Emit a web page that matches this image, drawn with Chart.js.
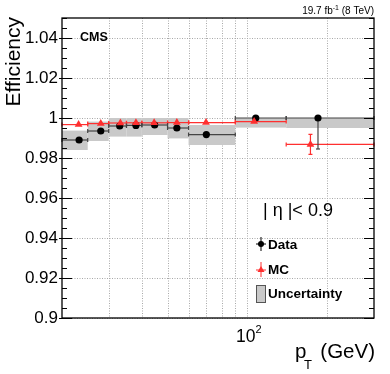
<!DOCTYPE html>
<html><head><meta charset="utf-8">
<script src="https://cdn.jsdelivr.net/npm/chart.js@4/dist/chart.umd.min.js"></script>
<style>html,body{margin:0;padding:0;background:#fff}canvas{display:block}</style>
</head><body>
<canvas id="c" width="390" height="374"></canvas>
<script>
// ---- data ----
const binLow  = [20, 25, 30, 35, 40, 50, 60, 90, 140];
const binHigh = [25, 30, 35, 40, 50, 60, 90, 140, 300];
const dataPt  = [23.2, 28.0, 33.0, 38.0, 44.7, 54.2, 70.0, 107.5, 184.5];
const dataEff = [0.989, 0.9935, 0.996, 0.9963, 0.9965, 0.995, 0.9917, 1.000, 1.000];
const dataErrDown = [0.0004, 0.0003, 0.0002, 0.0002, 0.0002, 0.0003, 0.0004, 0.0005, 0.0155];
const dataErrUp   = [0.0004, 0.0003, 0.0002, 0.0002, 0.0002, 0.0003, 0.0004, 0.0000, 0.0000];
const mcPt  = [23.1, 28.0, 33.2, 38.0, 44.5, 54.2, 69.8, 106.0, 172.8];
const mcEff = [0.9967, 0.9972, 0.9975, 0.9976, 0.9976, 0.9977, 0.9977, 0.9982, 0.9868];
const mcErr = [0.0002, 0.0002, 0.0002, 0.0002, 0.0002, 0.0002, 0.0002, 0.0003, 0.005];
const uncLow  = [0.984, 0.9885, 0.9907, 0.9907, 0.9915, 0.9898, 0.9865, 0.9952, 0.9950];
const uncHigh = [0.9937, 0.9982, 1.000, 1.000, 1.000, 1.000, 0.9965, 1.000, 1.000];
const yTickVals = [0.90, 0.92, 0.94, 0.96, 0.98, 1.00, 1.02, 1.04];
const yTickLabels = ['0.9', '0.92', '0.94', '0.96', '0.98', '1', '1.02', '1.04'];
const xGridVals = [30, 40, 50, 60, 70, 80, 90, 100, 200];
const xLabelVal = 100;
const xLabelBase = '10', xLabelExp = '2';
const yMinorStep = 0.005;

const RED = '#ff2f2f';
const FONT = '"Liberation Sans", Arial, Helvetica, sans-serif';

const decor = {
  id: 'decor',
  beforeDatasetsDraw(chart) {
    const {ctx, chartArea: a, scales: {x, y}} = chart;
    ctx.save();
    // grid
    ctx.strokeStyle = '#a8a8a8';
    ctx.lineWidth = 1;
    ctx.setLineDash([1, 1.5]);
    xGridVals.forEach(v => {
      const px = Math.round(x.getPixelForValue(v)) + 0.5;
      ctx.beginPath(); ctx.moveTo(px, a.top); ctx.lineTo(px, a.bottom); ctx.stroke();
    });
    yTickVals.forEach(v => {
      const py = Math.round(y.getPixelForValue(v)) + 0.5;
      ctx.beginPath(); ctx.moveTo(a.left, py); ctx.lineTo(a.right, py); ctx.stroke();
    });
    ctx.setLineDash([]);
    // uncertainty boxes
    ctx.fillStyle = '#c9c9c9';
    for (let i = 0; i < binLow.length; i++) {
      const x0 = x.getPixelForValue(binLow[i]), x1 = x.getPixelForValue(binHigh[i]);
      const y0 = y.getPixelForValue(uncHigh[i]), y1 = y.getPixelForValue(uncLow[i]);
      ctx.fillRect(x0, y0, x1 - x0, y1 - y0);
    }
    // MC error bars
    ctx.strokeStyle = RED; ctx.lineWidth = 1.2;
    for (let i = 0; i < mcPt.length; i++) {
      const x0 = x.getPixelForValue(binLow[i]), x1 = x.getPixelForValue(binHigh[i]);
      const py = y.getPixelForValue(mcEff[i]);
      const px = x.getPixelForValue(mcPt[i]);
      ctx.beginPath(); ctx.moveTo(x0, py); ctx.lineTo(x1, py); ctx.stroke();
      ctx.beginPath(); ctx.moveTo(x0, py - 2); ctx.lineTo(x0, py + 2); ctx.moveTo(x1, py - 2); ctx.lineTo(x1, py + 2); ctx.stroke();
      const ya = y.getPixelForValue(mcEff[i] + mcErr[i]), yb = y.getPixelForValue(mcEff[i] - mcErr[i]);
      ctx.beginPath(); ctx.moveTo(px, ya); ctx.lineTo(px, yb); ctx.stroke();
      if (mcErr[i] > 0.001) {
        ctx.beginPath(); ctx.moveTo(px - 2, ya); ctx.lineTo(px + 2, ya); ctx.moveTo(px - 2, yb); ctx.lineTo(px + 2, yb); ctx.stroke();
      }
    }
    // Data error bars
    ctx.strokeStyle = '#444'; ctx.lineWidth = 1.2;
    for (let i = 0; i < dataPt.length; i++) {
      const x0 = x.getPixelForValue(binLow[i]), x1 = x.getPixelForValue(binHigh[i]);
      const py = y.getPixelForValue(dataEff[i]);
      const px = x.getPixelForValue(dataPt[i]);
      ctx.beginPath(); ctx.moveTo(x0, py); ctx.lineTo(x1, py); ctx.stroke();
      ctx.beginPath(); ctx.moveTo(x0, py - 2); ctx.lineTo(x0, py + 2); ctx.moveTo(x1, py - 2); ctx.lineTo(x1, py + 2); ctx.stroke();
      const ya = y.getPixelForValue(dataEff[i] + dataErrUp[i]), yb = y.getPixelForValue(dataEff[i] - dataErrDown[i]);
      ctx.beginPath(); ctx.moveTo(px, ya); ctx.lineTo(px, yb); ctx.stroke();
      if (dataErrDown[i] > 0.001) {
        ctx.beginPath(); ctx.moveTo(px - 2, yb); ctx.lineTo(px + 2, yb); ctx.stroke();
      }
    }
    ctx.restore();
  },
  afterDraw(chart) {
    const {ctx, chartArea: a, scales: {x, y}} = chart;
    ctx.save();
    // frame
    ctx.strokeStyle = '#000'; ctx.lineWidth = 1.3;
    ctx.strokeRect(a.left, a.top, a.right - a.left, a.bottom - a.top);
    // y ticks
    ctx.lineWidth = 1;
    for (let v = 0.9; v <= 1.05 + 1e-9; v += yMinorStep) {
      const py = Math.round(y.getPixelForValue(v)) + 0.5;
      const major = yTickVals.some(t => Math.abs(t - v) < 1e-6);
      ctx.beginPath();
      if (major) { ctx.moveTo(a.left - 3, py); ctx.lineTo(a.left + 10, py); }
      else { ctx.moveTo(a.left, py); ctx.lineTo(a.left + 5, py); }
      ctx.moveTo(a.right, py); ctx.lineTo(a.right - (major ? 10 : 5), py);
      ctx.stroke();
    }
    ctx.fillStyle = '#000';
    ctx.textBaseline = 'alphabetic'; ctx.textAlign = 'left';
    // x tick label 10^2
    const lx100 = x.getPixelForValue(xLabelVal);
    ctx.font = '17.5px ' + FONT; const wb = ctx.measureText(xLabelBase).width;
    ctx.fillText(xLabelBase, lx100 - 11.5, 342);
    ctx.font = '11px ' + FONT; ctx.fillText(xLabelExp, lx100 - 11.5 + wb, 333);
    // top-right lumi
    let t1 = '19.7 fb', t2 = '-1', t3 = ' (8 TeV)';
    ctx.font = '10px ' + FONT; const w1 = ctx.measureText(t1).width, w3 = ctx.measureText(t3).width;
    ctx.font = '7px ' + FONT; const w2 = ctx.measureText(t2).width;
    let sx = 374 - (w1 + w2 + w3);
    ctx.font = '10px ' + FONT; ctx.fillText(t1, sx, 14);
    ctx.font = '7px ' + FONT; ctx.fillText(t2, sx + w1, 10);
    ctx.font = '10px ' + FONT; ctx.fillText(t3, sx + w1 + w2, 14);
    // CMS
    ctx.font = 'bold 12.5px ' + FONT; ctx.fillText('CMS', 80, 41);
    // Efficiency
    ctx.save();
    ctx.translate(20, 17); ctx.rotate(-Math.PI / 2);
    ctx.font = '21px ' + FONT; ctx.textAlign = 'right';
    ctx.fillText('Efficiency', 0, 0);
    ctx.restore();
    // pT (GeV)
    ctx.font = '20.5px ' + FONT;
    ctx.fillText('p', 295, 358);
    ctx.textAlign = 'right'; ctx.fillText('(GeV)', 375, 358);
    ctx.textAlign = 'left';
    ctx.font = '13px ' + FONT; ctx.fillText('T', 304, 369);
    // |eta| < 0.9
    ctx.font = '18px ' + FONT; ctx.textBaseline = 'middle';
    ctx.fillText('| \u03B7 |< 0.9', 263, 211);
    // legend
    ctx.font = 'bold 13.5px ' + FONT; ctx.textBaseline = 'middle';
    const lx = 261;
    // Data
    ctx.strokeStyle = '#000'; ctx.lineWidth = 1;
    ctx.beginPath(); ctx.moveTo(lx - 5, 244); ctx.lineTo(lx + 5, 244); ctx.moveTo(lx, 237); ctx.lineTo(lx, 251); ctx.stroke();
    ctx.beginPath(); ctx.arc(lx, 244, 3, 0, Math.PI * 2); ctx.fill();
    ctx.fillText('Data', 268, 245);
    // MC
    ctx.strokeStyle = RED; ctx.fillStyle = RED;
    ctx.beginPath(); ctx.moveTo(lx - 5, 270); ctx.lineTo(lx + 5, 270); ctx.moveTo(lx, 262); ctx.lineTo(lx, 277); ctx.stroke();
    ctx.beginPath(); ctx.moveTo(lx, 266); ctx.lineTo(lx + 3.5, 272); ctx.lineTo(lx - 3.5, 272); ctx.closePath(); ctx.fill();
    ctx.fillStyle = '#000';
    ctx.fillText('MC', 268, 270);
    // Uncertainty
    ctx.fillStyle = '#c9c9c9'; ctx.fillRect(256, 285, 9.5, 17.5);
    ctx.strokeStyle = '#555'; ctx.lineWidth = 1; ctx.strokeRect(256.5, 285.5, 9, 17);
    ctx.fillStyle = '#000';
    ctx.fillText('Uncertainty', 268, 294);
    ctx.restore();
  }
};

new Chart(document.getElementById('c'), {
  data: {
    datasets: [
      {
        type: 'scatter', label: 'MC',
        data: mcPt.map((v, i) => ({x: v, y: mcEff[i]})),
        pointStyle: 'triangle', pointRadius: 4.5, backgroundColor: RED, borderColor: RED, borderWidth: 0
      },
      {
        type: 'scatter', label: 'Data',
        data: dataPt.map((v, i) => ({x: v, y: dataEff[i]})),
        pointStyle: 'circle', pointRadius: 3.6, backgroundColor: '#000', borderColor: '#000', borderWidth: 0
      }
    ]
  },
  options: {
    responsive: false, animation: false, devicePixelRatio: 1,
    layout: {padding: {left: 0, top: 18, right: 16, bottom: 0}},
    plugins: {legend: {display: false}, tooltip: {enabled: false}},
    scales: {
      x: {
        type: 'logarithmic', min: 20, max: 300,
        grid: {display: false, drawTicks: false}, border: {display: false},
        afterBuildTicks: s => { s.ticks = xGridVals.map(v => ({value: v})); },
        afterFit: s => { s.height = 56; },
        ticks: {display: false}
      },
      y: {
        type: 'linear', min: 0.9, max: 1.05,
        grid: {display: false, drawTicks: false}, border: {display: false},
        afterBuildTicks: s => { s.ticks = yTickVals.map(v => ({value: v})); },
        afterFit: s => { s.width = 62; },
        ticks: {
          padding: 4, color: '#000',
          font: {family: FONT, size: 17},
          callback: (v, i) => yTickLabels[i]
        }
      }
    }
  },
  plugins: [decor]
});
</script>
</body></html>
